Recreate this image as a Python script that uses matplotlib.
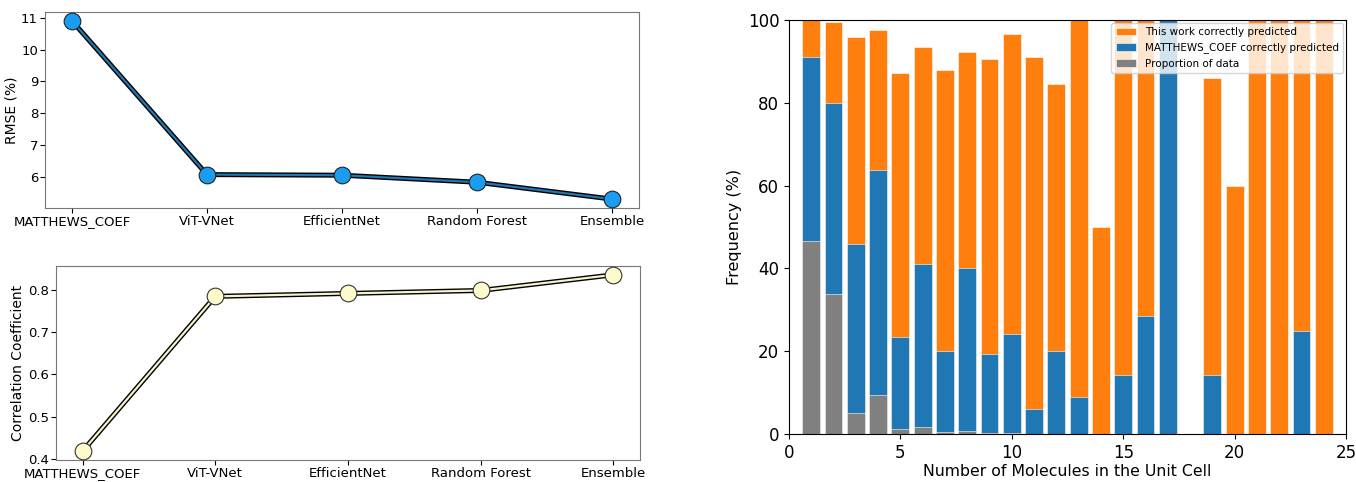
import numpy as np
import matplotlib
matplotlib.use("Agg")
import matplotlib.pyplot as plt

# left panels: model comparison
models = ["MATTHEWS_COEF", "ViT-VNet", "EfficientNet", "Random Forest", "Ensemble"]
rmse = [10.9, 6.07, 6.05, 5.83, 5.3]
corr = [0.418, 0.784, 0.791, 0.798, 0.835]

# right panel: per number of molecules in unit cell
n_mol = [1, 2, 3, 4, 5, 6, 7, 8, 9, 10, 11, 12, 13, 14, 15, 16, 17, 19, 20, 21, 22, 23, 24]
this_work = [100, 99.5, 96, 97.5, 87.3, 93.5, 88, 92.2, 90.5, 96.7, 91, 84.6, 100,
             50, 100, 100, 100, 86, 60, 100, 100, 100, 100]
matthews = [91, 80, 46, 63.7, 23.5, 41, 20, 40, 19.3, 24.2, 6, 20, 9,
            0, 14.3, 28.5, 100, 14.3, 0, 0, 0, 25, 0]
proportion = [46.5, 33.7, 5, 9.3, 1.2, 1.7, 0.5, 0.8, 0.2, 0.2, 0.1, 0.1, 0.05,
              0.02, 0.05, 0.05, 0.02, 0.05, 0.02, 0.02, 0.02, 0.02, 0.02]

W, H = 1356, 482
fig = plt.figure(figsize=(W / 100, H / 100), dpi=100)

def box(x0, y0, x1, y1):
    # pixel box -> figure fraction
    return [x0 / W, 1 - y1 / H, (x1 - x0) / W, (y1 - y0) / H]

ax1 = fig.add_axes(box(45, 12, 639, 208))
ax2 = fig.add_axes(box(56, 266, 640, 460))
ax3 = fig.add_axes(box(789, 20, 1346, 434))

x = np.arange(len(models))

ax1.plot(x, rmse, color="black", lw=3.6, zorder=2)
ax1.plot(x, rmse, color="#1f77b4", lw=1.6, zorder=3)
ax1.plot(x, rmse, "o", ms=12, mfc="#1a9cf0", mec="#222222", mew=0.8, zorder=4)
ax1.set_xticks(x)
ax1.set_xticklabels(models)
ax1.set_ylabel("RMSE (%)", fontsize=10, labelpad=2)

ax2.plot(x, corr, color="black", lw=3.6, zorder=2)
ax2.plot(x, corr, color="#f6f3c8", lw=1.6, zorder=3)
ax2.plot(x, corr, "o", ms=12, mfc="#fffacc", mec="#333333", mew=0.8, zorder=4)
ax2.set_xticks(x)
ax2.set_xticklabels(models)
ax2.set_ylabel("Correlation Coefficient", fontsize=10, labelpad=2)
ax2.set_yticks([0.4, 0.5, 0.6, 0.7, 0.8])

for ax in (ax1, ax2):
    ax.tick_params(labelsize=9.5, pad=1.5)
    for s in ax.spines.values():
        s.set_color("#777777")
        s.set_linewidth(0.8)

ax3.bar(n_mol, this_work, width=0.8, color="#ff7f0e", edgecolor="white", lw=0.4,
        label="This work correctly predicted")
ax3.bar(n_mol, matthews, width=0.8, color="#1f77b4", edgecolor="white", lw=0.4,
        label="MATTHEWS_COEF correctly predicted")
ax3.bar(n_mol, proportion, width=0.8, color="gray", edgecolor="white", lw=0.4,
        label="Proportion of data")
ax3.set_xlim(0, 25)
ax3.set_ylim(0, 100)
ax3.set_xlabel("Number of Molecules in the Unit Cell", fontsize=11.3, labelpad=2)
ax3.set_ylabel("Frequency (%)", fontsize=11.5)
ax3.tick_params(labelsize=12)
ax3.legend(loc="upper right", fontsize=7.5, borderaxespad=0.3)

fig.savefig("out.png", dpi=100)
